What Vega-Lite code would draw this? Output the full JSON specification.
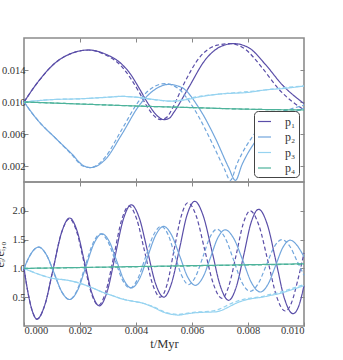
{
  "$schema": "https://vega.github.io/schema/vega-lite/v6.json",
  "autosize": {"type": "pad"},
  "padding": {"left": -7, "top": 36, "right": 10, "bottom": 8},
  "background": "white",
  "bounds": "flush",
  "config": {
    "font": "Liberation Serif",
    "view": {"stroke": "#8c8c8c", "strokeWidth": 1.6},
    "axis": {
      "domain": false, "grid": false, "tickSize": -4, "tickColor": "#888888", "tickWidth": 1,
      "labelFont": "Liberation Serif", "labelFontSize": 10.5, "labelColor": "#333333", "labelPadding": 3,
      "titleFont": "Liberation Serif", "titleFontWeight": "normal", "titleFontSize": 12.5, "titleColor": "#333333"
    },
    "line": {"strokeWidth": 1.2, "interpolate": "monotone"}
  },
  "datasets": {
    "top": [
      {"b":"p1","k":"solid","t":0,"v":0.0100},{"b":"p1","k":"solid","t":0.00052,"v":0.0126},{"b":"p1","k":"solid","t":0.00112,"v":0.0149},{"b":"p1","k":"solid","t":0.00171,"v":0.0161},{"b":"p1","k":"solid","t":0.00231,"v":0.0165},{"b":"p1","k":"solid","t":0.0029,"v":0.0160},{"b":"p1","k":"solid","t":0.0035,"v":0.0147},{"b":"p1","k":"solid","t":0.0038,"v":0.0135},{"b":"p1","k":"solid","t":0.0041,"v":0.0118},{"b":"p1","k":"solid","t":0.00445,"v":0.0097},{"b":"p1","k":"solid","t":0.00475,"v":0.0083},{"b":"p1","k":"solid","t":0.00499,"v":0.0078},{"b":"p1","k":"solid","t":0.0052,"v":0.0080},{"b":"p1","k":"solid","t":0.00535,"v":0.0087},{"b":"p1","k":"solid","t":0.00588,"v":0.0118},{"b":"p1","k":"solid","t":0.00648,"v":0.0153},{"b":"p1","k":"solid","t":0.00707,"v":0.0170},{"b":"p1","k":"solid","t":0.00749,"v":0.0173},{"b":"p1","k":"solid","t":0.00802,"v":0.0168},{"b":"p1","k":"solid","t":0.00862,"v":0.0147},{"b":"p1","k":"solid","t":0.00921,"v":0.0122},{"b":"p1","k":"solid","t":0.01,"v":0.0098},
      {"b":"p1","k":"dashed","t":0,"v":0.0100},{"b":"p1","k":"dashed","t":0.00052,"v":0.0126},{"b":"p1","k":"dashed","t":0.00112,"v":0.0149},{"b":"p1","k":"dashed","t":0.00171,"v":0.0161},{"b":"p1","k":"dashed","t":0.00231,"v":0.0165},{"b":"p1","k":"dashed","t":0.0029,"v":0.0159},{"b":"p1","k":"dashed","t":0.0035,"v":0.0144},{"b":"p1","k":"dashed","t":0.0038,"v":0.0130},{"b":"p1","k":"dashed","t":0.0041,"v":0.0113},{"b":"p1","k":"dashed","t":0.0044,"v":0.0094},{"b":"p1","k":"dashed","t":0.0047,"v":0.0081},{"b":"p1","k":"dashed","t":0.00487,"v":0.0078},{"b":"p1","k":"dashed","t":0.0051,"v":0.0081},{"b":"p1","k":"dashed","t":0.0053,"v":0.0092},{"b":"p1","k":"dashed","t":0.0057,"v":0.0122},{"b":"p1","k":"dashed","t":0.0063,"v":0.0157},{"b":"p1","k":"dashed","t":0.0069,"v":0.0171},{"b":"p1","k":"dashed","t":0.00737,"v":0.0173},{"b":"p1","k":"dashed","t":0.0079,"v":0.0166},{"b":"p1","k":"dashed","t":0.0085,"v":0.0143},{"b":"p1","k":"dashed","t":0.0091,"v":0.0116},{"b":"p1","k":"dashed","t":0.01,"v":0.0090},
      {"b":"p2","k":"solid","t":0,"v":0.0100},{"b":"p2","k":"solid","t":0.00052,"v":0.0076},{"b":"p2","k":"solid","t":0.00112,"v":0.0055},{"b":"p2","k":"solid","t":0.00171,"v":0.0035},{"b":"p2","k":"solid","t":0.0021,"v":0.0021},{"b":"p2","k":"solid","t":0.00237,"v":0.0018},{"b":"p2","k":"solid","t":0.0026,"v":0.0020},{"b":"p2","k":"solid","t":0.0029,"v":0.0028},{"b":"p2","k":"solid","t":0.0035,"v":0.0060},{"b":"p2","k":"solid","t":0.0041,"v":0.0095},{"b":"p2","k":"solid","t":0.00469,"v":0.0116},{"b":"p2","k":"solid","t":0.00517,"v":0.0122},{"b":"p2","k":"solid","t":0.00564,"v":0.0118},{"b":"p2","k":"solid","t":0.00624,"v":0.0093},{"b":"p2","k":"solid","t":0.00683,"v":0.0055},{"b":"p2","k":"solid","t":0.00731,"v":0.0018},{"b":"p2","k":"solid","t":0.00755,"v":0.0002},{"b":"p2","k":"solid","t":0.00779,"v":0.0022},{"b":"p2","k":"solid","t":0.00827,"v":0.0051},{"b":"p2","k":"solid","t":0.00898,"v":0.0075},{"b":"p2","k":"solid","t":0.0095,"v":0.0085},{"b":"p2","k":"solid","t":0.01,"v":0.0092},
      {"b":"p2","k":"dashed","t":0,"v":0.0100},{"b":"p2","k":"dashed","t":0.00052,"v":0.0076},{"b":"p2","k":"dashed","t":0.00112,"v":0.0055},{"b":"p2","k":"dashed","t":0.00171,"v":0.0034},{"b":"p2","k":"dashed","t":0.0021,"v":0.0020},{"b":"p2","k":"dashed","t":0.00237,"v":0.0018},{"b":"p2","k":"dashed","t":0.0026,"v":0.0021},{"b":"p2","k":"dashed","t":0.0029,"v":0.0031},{"b":"p2","k":"dashed","t":0.0035,"v":0.0066},{"b":"p2","k":"dashed","t":0.0041,"v":0.0101},{"b":"p2","k":"dashed","t":0.00469,"v":0.0120},{"b":"p2","k":"dashed","t":0.00505,"v":0.0123},{"b":"p2","k":"dashed","t":0.0055,"v":0.0117},{"b":"p2","k":"dashed","t":0.0061,"v":0.0090},{"b":"p2","k":"dashed","t":0.0067,"v":0.0050},{"b":"p2","k":"dashed","t":0.00715,"v":0.0017},{"b":"p2","k":"dashed","t":0.00737,"v":0.0002},{"b":"p2","k":"dashed","t":0.0076,"v":0.0022},{"b":"p2","k":"dashed","t":0.00827,"v":0.0062},{"b":"p2","k":"dashed","t":0.00898,"v":0.0085},{"b":"p2","k":"dashed","t":0.0095,"v":0.0091},{"b":"p2","k":"dashed","t":0.01,"v":0.0096},
      {"b":"p3","k":"solid","t":0,"v":0.0100},{"b":"p3","k":"solid","t":0.001,"v":0.0103},{"b":"p3","k":"solid","t":0.002,"v":0.0104},{"b":"p3","k":"solid","t":0.003,"v":0.0106},{"b":"p3","k":"solid","t":0.0035,"v":0.0107},{"b":"p3","k":"solid","t":0.004,"v":0.0106},{"b":"p3","k":"solid","t":0.00469,"v":0.0103},{"b":"p3","k":"solid","t":0.0053,"v":0.0101},{"b":"p3","k":"solid","t":0.0058,"v":0.0103},{"b":"p3","k":"solid","t":0.0062,"v":0.0106},{"b":"p3","k":"solid","t":0.007,"v":0.0110},{"b":"p3","k":"solid","t":0.008,"v":0.0112},{"b":"p3","k":"solid","t":0.0086,"v":0.0115},{"b":"p3","k":"solid","t":0.0093,"v":0.0117},{"b":"p3","k":"solid","t":0.01,"v":0.0120},
      {"b":"p3","k":"dashed","t":0,"v":0.0100},{"b":"p3","k":"dashed","t":0.001,"v":0.0103},{"b":"p3","k":"dashed","t":0.002,"v":0.0104},{"b":"p3","k":"dashed","t":0.003,"v":0.0106},{"b":"p3","k":"dashed","t":0.0035,"v":0.0107},{"b":"p3","k":"dashed","t":0.004,"v":0.0106},{"b":"p3","k":"dashed","t":0.0046,"v":0.0103},{"b":"p3","k":"dashed","t":0.0052,"v":0.0101},{"b":"p3","k":"dashed","t":0.0057,"v":0.0103},{"b":"p3","k":"dashed","t":0.0061,"v":0.0106},{"b":"p3","k":"dashed","t":0.007,"v":0.0110},{"b":"p3","k":"dashed","t":0.008,"v":0.0113},{"b":"p3","k":"dashed","t":0.0086,"v":0.0115},{"b":"p3","k":"dashed","t":0.0093,"v":0.0118},{"b":"p3","k":"dashed","t":0.01,"v":0.0120},
      {"b":"p4","k":"solid","t":0,"v":0.0100},{"b":"p4","k":"solid","t":0.002,"v":0.00975},{"b":"p4","k":"solid","t":0.004,"v":0.0095},{"b":"p4","k":"solid","t":0.006,"v":0.0093},{"b":"p4","k":"solid","t":0.008,"v":0.0091},{"b":"p4","k":"solid","t":0.01,"v":0.0090},
      {"b":"p4","k":"dashed","t":0,"v":0.0100},{"b":"p4","k":"dashed","t":0.002,"v":0.00975},{"b":"p4","k":"dashed","t":0.004,"v":0.0095},{"b":"p4","k":"dashed","t":0.006,"v":0.0093},{"b":"p4","k":"dashed","t":0.008,"v":0.0091},{"b":"p4","k":"dashed","t":0.01,"v":0.0090}
    ],
    "bot": [
      {"b":"p1","k":"solid","t":0,"v":1.0},{"b":"p1","k":"solid","t":0.00015,"v":0.56},{"b":"p1","k":"solid","t":0.00031,"v":0.24},{"b":"p1","k":"solid","t":0.00046,"v":0.12},{"b":"p1","k":"solid","t":0.00075,"v":0.376},{"b":"p1","k":"solid","t":0.001045,"v":0.998},{"b":"p1","k":"solid","t":0.00134,"v":1.619},{"b":"p1","k":"solid","t":0.00163,"v":1.875},{"b":"p1","k":"solid","t":0.001895,"v":1.652},{"b":"p1","k":"solid","t":0.00216,"v":1.113},{"b":"p1","k":"solid","t":0.002425,"v":0.573},{"b":"p1","k":"solid","t":0.00269,"v":0.35},{"b":"p1","k":"solid","t":0.002975,"v":0.606},{"b":"p1","k":"solid","t":0.00326,"v":1.228},{"b":"p1","k":"solid","t":0.003545,"v":1.849},{"b":"p1","k":"solid","t":0.00383,"v":2.105},{"b":"p1","k":"solid","t":0.00412,"v":1.871},{"b":"p1","k":"solid","t":0.00441,"v":1.303},{"b":"p1","k":"solid","t":0.0047,"v":0.734},{"b":"p1","k":"solid","t":0.00499,"v":0.50},{"b":"p1","k":"solid","t":0.00527,"v":0.743},{"b":"p1","k":"solid","t":0.00555,"v":1.333},{"b":"p1","k":"solid","t":0.00582,"v":1.922},{"b":"p1","k":"solid","t":0.0061,"v":2.165},{"b":"p1","k":"solid","t":0.0064,"v":1.914},{"b":"p1","k":"solid","t":0.00671,"v":1.306},{"b":"p1","k":"solid","t":0.00701,"v":0.697},{"b":"p1","k":"solid","t":0.00731,"v":0.446},{"b":"p1","k":"solid","t":0.00758,"v":0.677},{"b":"p1","k":"solid","t":0.00785,"v":1.236},{"b":"p1","k":"solid","t":0.00811,"v":1.795},{"b":"p1","k":"solid","t":0.00838,"v":2.026},{"b":"p1","k":"solid","t":0.00869,"v":1.761},{"b":"p1","k":"solid","t":0.009,"v":1.12},{"b":"p1","k":"solid","t":0.0093,"v":0.479},{"b":"p1","k":"solid","t":0.00961,"v":0.214},{"b":"p1","k":"solid","t":0.0098,"v":0.33},{"b":"p1","k":"solid","t":0.01,"v":0.70},
      {"b":"p1","k":"dashed","t":0,"v":1.0},{"b":"p1","k":"dashed","t":0.00015,"v":0.56},{"b":"p1","k":"dashed","t":0.00031,"v":0.24},{"b":"p1","k":"dashed","t":0.00046,"v":0.12},{"b":"p1","k":"dashed","t":0.00075,"v":0.374},{"b":"p1","k":"dashed","t":0.00104,"v":0.99},{"b":"p1","k":"dashed","t":0.00133,"v":1.606},{"b":"p1","k":"dashed","t":0.00162,"v":1.86},{"b":"p1","k":"dashed","t":0.00188,"v":1.641},{"b":"p1","k":"dashed","t":0.00214,"v":1.11},{"b":"p1","k":"dashed","t":0.0024,"v":0.579},{"b":"p1","k":"dashed","t":0.00266,"v":0.36},{"b":"p1","k":"dashed","t":0.00293,"v":0.611},{"b":"p1","k":"dashed","t":0.00321,"v":1.22},{"b":"p1","k":"dashed","t":0.00348,"v":1.829},{"b":"p1","k":"dashed","t":0.00375,"v":2.08},{"b":"p1","k":"dashed","t":0.00403,"v":1.849},{"b":"p1","k":"dashed","t":0.00431,"v":1.29},{"b":"p1","k":"dashed","t":0.00459,"v":0.731},{"b":"p1","k":"dashed","t":0.00487,"v":0.50},{"b":"p1","k":"dashed","t":0.00512,"v":0.739},{"b":"p1","k":"dashed","t":0.00536,"v":1.32},{"b":"p1","k":"dashed","t":0.00561,"v":1.90},{"b":"p1","k":"dashed","t":0.00585,"v":2.14},{"b":"p1","k":"dashed","t":0.00616,"v":1.898},{"b":"p1","k":"dashed","t":0.00646,"v":1.31},{"b":"p1","k":"dashed","t":0.00677,"v":0.722},{"b":"p1","k":"dashed","t":0.00707,"v":0.48},{"b":"p1","k":"dashed","t":0.00732,"v":0.702},{"b":"p1","k":"dashed","t":0.00758,"v":1.24},{"b":"p1","k":"dashed","t":0.00783,"v":1.778},{"b":"p1","k":"dashed","t":0.00808,"v":2.0},{"b":"p1","k":"dashed","t":0.00839,"v":1.746},{"b":"p1","k":"dashed","t":0.00871,"v":1.13},{"b":"p1","k":"dashed","t":0.00902,"v":0.514},{"b":"p1","k":"dashed","t":0.00933,"v":0.26},{"b":"p1","k":"dashed","t":0.00955,"v":0.40},{"b":"p1","k":"dashed","t":0.00978,"v":0.80},{"b":"p1","k":"dashed","t":0.01,"v":1.27},
      {"b":"p2","k":"solid","t":0,"v":1.0},{"b":"p2","k":"solid","t":0.00017,"v":1.185},{"b":"p2","k":"solid","t":0.00035,"v":1.32},{"b":"p2","k":"solid","t":0.00052,"v":1.37},{"b":"p2","k":"solid","t":0.0008,"v":1.237},{"b":"p2","k":"solid","t":0.00108,"v":0.915},{"b":"p2","k":"solid","t":0.00135,"v":0.593},{"b":"p2","k":"solid","t":0.00163,"v":0.46},{"b":"p2","k":"solid","t":0.00192,"v":0.626},{"b":"p2","k":"solid","t":0.00221,"v":1.03},{"b":"p2","k":"solid","t":0.0025,"v":1.434},{"b":"p2","k":"solid","t":0.00279,"v":1.60},{"b":"p2","k":"solid","t":0.00305,"v":1.463},{"b":"p2","k":"solid","t":0.00331,"v":1.13},{"b":"p2","k":"solid","t":0.00357,"v":0.797},{"b":"p2","k":"solid","t":0.00383,"v":0.66},{"b":"p2","k":"solid","t":0.00412,"v":0.816},{"b":"p2","k":"solid","t":0.00441,"v":1.195},{"b":"p2","k":"solid","t":0.0047,"v":1.574},{"b":"p2","k":"solid","t":0.00499,"v":1.73},{"b":"p2","k":"solid","t":0.00527,"v":1.58},{"b":"p2","k":"solid","t":0.00556,"v":1.218},{"b":"p2","k":"solid","t":0.00584,"v":0.856},{"b":"p2","k":"solid","t":0.00612,"v":0.706},{"b":"p2","k":"solid","t":0.00639,"v":0.847},{"b":"p2","k":"solid","t":0.00666,"v":1.188},{"b":"p2","k":"solid","t":0.00692,"v":1.529},{"b":"p2","k":"solid","t":0.00719,"v":1.67},{"b":"p2","k":"solid","t":0.0075,"v":1.512},{"b":"p2","k":"solid","t":0.00782,"v":1.13},{"b":"p2","k":"solid","t":0.00813,"v":0.748},{"b":"p2","k":"solid","t":0.00844,"v":0.59},{"b":"p2","k":"solid","t":0.00871,"v":0.721},{"b":"p2","k":"solid","t":0.00898,"v":1.04},{"b":"p2","k":"solid","t":0.00924,"v":1.359},{"b":"p2","k":"solid","t":0.00951,"v":1.49},{"b":"p2","k":"solid","t":0.00975,"v":1.40},{"b":"p2","k":"solid","t":0.01,"v":1.2},
      {"b":"p2","k":"dashed","t":0,"v":1.0},{"b":"p2","k":"dashed","t":0.00017,"v":1.185},{"b":"p2","k":"dashed","t":0.00035,"v":1.32},{"b":"p2","k":"dashed","t":0.00052,"v":1.37},{"b":"p2","k":"dashed","t":0.0008,"v":1.237},{"b":"p2","k":"dashed","t":0.00107,"v":0.915},{"b":"p2","k":"dashed","t":0.00135,"v":0.593},{"b":"p2","k":"dashed","t":0.00162,"v":0.46},{"b":"p2","k":"dashed","t":0.0019,"v":0.626},{"b":"p2","k":"dashed","t":0.00218,"v":1.03},{"b":"p2","k":"dashed","t":0.00246,"v":1.434},{"b":"p2","k":"dashed","t":0.00274,"v":1.60},{"b":"p2","k":"dashed","t":0.003,"v":1.463},{"b":"p2","k":"dashed","t":0.00326,"v":1.13},{"b":"p2","k":"dashed","t":0.00352,"v":0.797},{"b":"p2","k":"dashed","t":0.00378,"v":0.66},{"b":"p2","k":"dashed","t":0.00406,"v":0.816},{"b":"p2","k":"dashed","t":0.00434,"v":1.195},{"b":"p2","k":"dashed","t":0.00462,"v":1.574},{"b":"p2","k":"dashed","t":0.0049,"v":1.73},{"b":"p2","k":"dashed","t":0.00515,"v":1.583},{"b":"p2","k":"dashed","t":0.00539,"v":1.225},{"b":"p2","k":"dashed","t":0.00564,"v":0.867},{"b":"p2","k":"dashed","t":0.00588,"v":0.72},{"b":"p2","k":"dashed","t":0.00613,"v":0.86},{"b":"p2","k":"dashed","t":0.00639,"v":1.2},{"b":"p2","k":"dashed","t":0.00664,"v":1.54},{"b":"p2","k":"dashed","t":0.00689,"v":1.68},{"b":"p2","k":"dashed","t":0.00719,"v":1.522},{"b":"p2","k":"dashed","t":0.00749,"v":1.14},{"b":"p2","k":"dashed","t":0.00778,"v":0.758},{"b":"p2","k":"dashed","t":0.00808,"v":0.60},{"b":"p2","k":"dashed","t":0.00836,"v":0.731},{"b":"p2","k":"dashed","t":0.00865,"v":1.05},{"b":"p2","k":"dashed","t":0.00893,"v":1.369},{"b":"p2","k":"dashed","t":0.00921,"v":1.50},{"b":"p2","k":"dashed","t":0.0095,"v":1.38},{"b":"p2","k":"dashed","t":0.00975,"v":1.13},{"b":"p2","k":"dashed","t":0.01,"v":0.88},
      {"b":"p3","k":"solid","t":0,"v":1.0},{"b":"p3","k":"solid","t":0.00064,"v":0.88},{"b":"p3","k":"solid","t":0.001,"v":0.83},{"b":"p3","k":"solid","t":0.0016,"v":0.79},{"b":"p3","k":"solid","t":0.00207,"v":0.73},{"b":"p3","k":"solid","t":0.0025,"v":0.65},{"b":"p3","k":"solid","t":0.00279,"v":0.59},{"b":"p3","k":"solid","t":0.0032,"v":0.52},{"b":"p3","k":"solid","t":0.0035,"v":0.47},{"b":"p3","k":"solid","t":0.0039,"v":0.43},{"b":"p3","k":"solid","t":0.00421,"v":0.40},{"b":"p3","k":"solid","t":0.0046,"v":0.33},{"b":"p3","k":"solid","t":0.00499,"v":0.24},{"b":"p3","k":"solid","t":0.0053,"v":0.20},{"b":"p3","k":"solid","t":0.00552,"v":0.19},{"b":"p3","k":"solid","t":0.0058,"v":0.21},{"b":"p3","k":"solid","t":0.00612,"v":0.23},{"b":"p3","k":"solid","t":0.0065,"v":0.24},{"b":"p3","k":"solid","t":0.00683,"v":0.245},{"b":"p3","k":"solid","t":0.0071,"v":0.28},{"b":"p3","k":"solid","t":0.00731,"v":0.33},{"b":"p3","k":"solid","t":0.0076,"v":0.40},{"b":"p3","k":"solid","t":0.0079,"v":0.45},{"b":"p3","k":"solid","t":0.0082,"v":0.48},{"b":"p3","k":"solid","t":0.0085,"v":0.50},{"b":"p3","k":"solid","t":0.0088,"v":0.53},{"b":"p3","k":"solid","t":0.0091,"v":0.56},{"b":"p3","k":"solid","t":0.0095,"v":0.62},{"b":"p3","k":"solid","t":0.01,"v":0.70},
      {"b":"p3","k":"dashed","t":0,"v":1.0},{"b":"p3","k":"dashed","t":0.00064,"v":0.88},{"b":"p3","k":"dashed","t":0.001,"v":0.83},{"b":"p3","k":"dashed","t":0.0016,"v":0.79},{"b":"p3","k":"dashed","t":0.00207,"v":0.73},{"b":"p3","k":"dashed","t":0.0025,"v":0.65},{"b":"p3","k":"dashed","t":0.00279,"v":0.59},{"b":"p3","k":"dashed","t":0.0032,"v":0.52},{"b":"p3","k":"dashed","t":0.0035,"v":0.47},{"b":"p3","k":"dashed","t":0.0039,"v":0.43},{"b":"p3","k":"dashed","t":0.00421,"v":0.40},{"b":"p3","k":"dashed","t":0.0046,"v":0.34},{"b":"p3","k":"dashed","t":0.00499,"v":0.25},{"b":"p3","k":"dashed","t":0.0053,"v":0.21},{"b":"p3","k":"dashed","t":0.00552,"v":0.20},{"b":"p3","k":"dashed","t":0.0058,"v":0.22},{"b":"p3","k":"dashed","t":0.00612,"v":0.24},{"b":"p3","k":"dashed","t":0.0065,"v":0.25},{"b":"p3","k":"dashed","t":0.00683,"v":0.27},{"b":"p3","k":"dashed","t":0.0071,"v":0.32},{"b":"p3","k":"dashed","t":0.00731,"v":0.37},{"b":"p3","k":"dashed","t":0.0076,"v":0.43},{"b":"p3","k":"dashed","t":0.0079,"v":0.47},{"b":"p3","k":"dashed","t":0.0082,"v":0.49},{"b":"p3","k":"dashed","t":0.0085,"v":0.51},{"b":"p3","k":"dashed","t":0.0088,"v":0.55},{"b":"p3","k":"dashed","t":0.0091,"v":0.58},{"b":"p3","k":"dashed","t":0.0095,"v":0.64},{"b":"p3","k":"dashed","t":0.01,"v":0.72},
      {"b":"p4","k":"solid","t":0,"v":1.0},{"b":"p4","k":"solid","t":0.0025,"v":1.02},{"b":"p4","k":"solid","t":0.005,"v":1.04},{"b":"p4","k":"solid","t":0.0075,"v":1.06},{"b":"p4","k":"solid","t":0.01,"v":1.08},
      {"b":"p4","k":"dashed","t":0,"v":1.0},{"b":"p4","k":"dashed","t":0.005,"v":1.035},{"b":"p4","k":"dashed","t":0.01,"v":1.075}
    ]
  },
  "spacing": 0,
  "resolve": {"legend": {"color": "independent", "strokeDash": "independent"}},
  "vconcat": [
    {
      "width": 280, "height": 144,
      "data": {"name": "top"},
      "layer": [
        {
          "mark": {"type": "line"},
          "encoding": {
            "x": {"field": "t", "type": "quantitative", "scale": {"domain": [0, 0.01], "nice": false, "zero": false},
                  "axis": {"orient": "bottom", "labels": false, "title": null, "values": [0.002, 0.004, 0.006, 0.008]}},
            "y": {"field": "v", "type": "quantitative", "scale": {"domain": [0, 0.018], "nice": false},
                  "axis": {"orient": "left", "values": [0.002, 0.006, 0.010, 0.014], "format": ".3f", "title": null}},
            "color": {"field": "b", "type": "nominal",
                      "scale": {"domain": ["p1", "p2", "p3", "p4"], "range": ["#5a4ea8", "#72a6dc", "#96d3f0", "#4db39b"]},
                      "legend": {"orient": "bottom-right", "offset": 5, "title": null, "fillColor": "white", "strokeColor": "#444444",
                                 "cornerRadius": 4, "padding": 3, "symbolType": "stroke", "symbolStrokeWidth": 1.5, "symbolSize": 170,
                                 "labelFont": "Liberation Serif", "labelFontSize": 12, "labelColor": "#333333", "labelOffset": 13, "rowPadding": 1.5,
                                 "labelExpr": "datum.label == 'p1' ? 'p₁' : datum.label == 'p2' ? 'p₂' : datum.label == 'p3' ? 'p₃' : 'p₄'"}},
            "strokeDash": {"field": "k", "type": "nominal", "scale": {"domain": ["solid", "dashed"], "range": [[1, 0], [4, 2.5]]}, "legend": null}
          }
        },
        {
          "mark": {"type": "point", "opacity": 0},
          "encoding": {
            "x": {"field": "t", "type": "quantitative", "axis": {"orient": "top", "labels": false, "title": null, "values": [0.002, 0.004, 0.006, 0.008]}},
            "y": {"field": "v", "type": "quantitative", "axis": {"orient": "right", "labels": false, "title": null, "values": [0.002, 0.006, 0.010, 0.014]}}
          }
        }
      ],
      "resolve": {"axis": {"x": "independent", "y": "independent"}}
    },
    {
      "width": 280, "height": 144,
      "data": {"name": "bot"},
      "layer": [
        {
          "mark": {"type": "line"},
          "encoding": {
            "x": {"field": "t", "type": "quantitative", "scale": {"domain": [0, 0.01], "nice": false, "zero": false},
                  "axis": {"orient": "bottom", "values": [0, 0.002, 0.004, 0.006, 0.008, 0.010], "format": ".3f", "title": "t/Myr", "titlePadding": 2}},
            "y": {"field": "v", "type": "quantitative", "scale": {"domain": [0, 2.5], "nice": false},
                  "axis": {"orient": "left", "values": [0.5, 1.0, 1.5, 2.0], "format": ".1f", "title": "eᵢ/eᵢ,₀", "titlePadding": 5}},
            "color": {"field": "b", "type": "nominal",
                      "scale": {"domain": ["p1", "p2", "p3", "p4"], "range": ["#5a4ea8", "#72a6dc", "#96d3f0", "#4db39b"]}, "legend": null},
            "strokeDash": {"field": "k", "type": "nominal", "scale": {"domain": ["solid", "dashed"], "range": [[1, 0], [4, 2.5]]}, "legend": null}
          }
        },
        {
          "mark": {"type": "point", "opacity": 0},
          "encoding": {
            "x": {"field": "t", "type": "quantitative", "axis": {"orient": "top", "labels": false, "title": null, "values": [0.002, 0.004, 0.006, 0.008]}},
            "y": {"field": "v", "type": "quantitative", "axis": {"orient": "right", "labels": false, "title": null, "values": [0.5, 1.0, 1.5, 2.0]}}
          }
        }
      ],
      "resolve": {"axis": {"x": "independent", "y": "independent"}}
    }
  ]
}
